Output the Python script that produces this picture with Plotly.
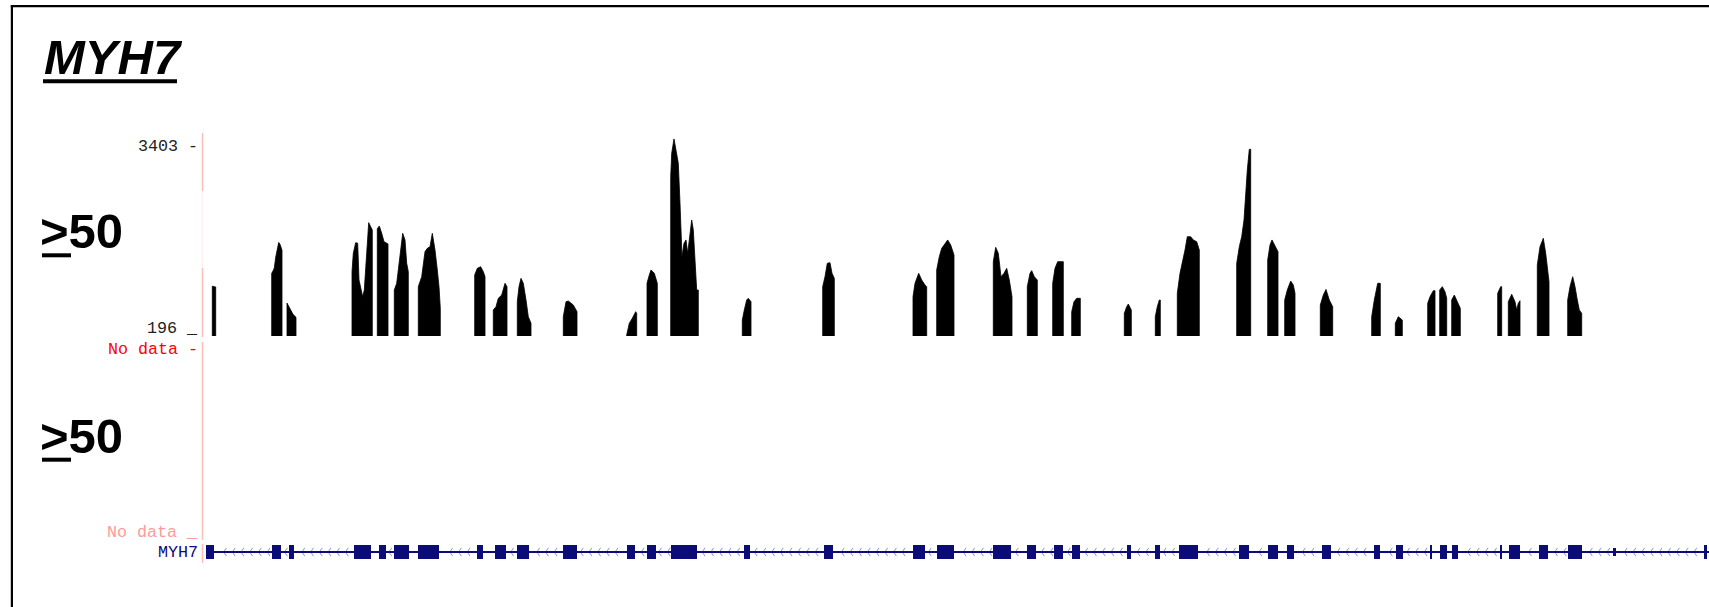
import numpy as np
import plotly.graph_objects as go

W, H = 1709, 607

# ------------------------------------------------------------------ data
gene_name = "MYH7"
track_labels = ["&gt;50", "&gt;50"]
y_tick_vals = [3403, 196]
view_start, view_end = 0, 15060          # relative bp
y_lo, y_hi = 196, 3600

# coverage profile, one list per covered block (relative bp / read depth)
cov_pos = [
    [93, 127],
    [687, 700, 713, 727, 740, 757, 770, 780, 790],
    [840, 860, 880, 900, 930],
    [1490, 1503, 1527, 1547, 1560, 1597, 1613, 1637, 1657, 1673, 1693],
    [1743, 1763, 1787, 1810, 1850],
    [1913, 1937, 1963, 1997, 2020, 2037, 2053],
    [2153, 2187, 2220, 2243, 2270, 2293, 2320, 2343, 2360, 2373],
    [2717, 2743, 2777, 2803, 2820],
    [2903, 2930, 2953, 2987, 3020, 3040],
    [3143, 3160, 3180, 3203, 3230, 3253, 3280],
    [3603, 3630, 3653, 3703, 3740],
    [4237, 4263, 4293, 4327, 4337],
    [4440, 4463, 4480, 4513, 4543],
    [4677, 4687, 4710, 4737, 4753, 4770, 4790, 4810, 4830, 4847, 4870, 4887, 4903, 4923, 4937, 4953],
    [5393, 5413, 5437, 5453, 5480],
    [6197, 6220, 6243, 6270, 6290, 6313],
    [7100, 7120, 7157, 7187, 7220, 7237],
    [7337, 7363, 7387, 7413, 7447, 7477, 7510],
    [7903, 7927, 7953, 7980, 8010, 8037, 8063, 8090],
    [8243, 8270, 8287, 8313, 8343],
    [8497, 8520, 8547, 8603],
    [8687, 8710, 8737, 8773],
    [9213, 9237, 9253, 9283],
    [9523, 9543, 9563, 9573],
    [9743, 9770, 9793, 9820, 9843, 9877, 9903, 9937, 9963],
    [10337, 10363, 10387, 10410, 10430, 10443, 10463, 10477],
    [10647, 10670, 10690, 10720, 10750],
    [10817, 10843, 10877, 10903, 10920],
    [11173, 11203, 11230, 11263, 11297],
    [11687, 11713, 11747, 11773],
    [11923, 11953, 11993],
    [12247, 12270, 12303, 12320],
    [12367, 12393, 12420, 12437],
    [12487, 12513, 12547, 12573],
    [12947, 12977, 12987],
    [13053, 13087, 13120, 13137, 13153, 13170],
    [13343, 13370, 13403, 13427, 13453, 13460],
    [13647, 13670, 13697, 13720, 13743, 13763, 13787],
]
cov_val = [
    [1035, 1020],
    [1250, 1290, 1340, 1520, 1640, 1770, 1740, 1660, 1640],
    [750, 680, 620, 560, 510],
    [1279, 1588, 1767, 1756, 1138, 857, 970, 1588, 2103, 2047, 1980],
    [2000, 2047, 1924, 1784, 1745],
    [970, 1083, 1475, 1924, 1812, 1419, 1279],
    [1026, 1194, 1615, 1671, 1699, 1924, 1643, 1307, 1026, 662],
    [1223, 1334, 1362, 1279, 1194],
    [634, 689, 830, 885, 1083, 1026],
    [773, 1026, 1166, 1083, 802, 521, 410],
    [521, 773, 785, 718, 605],
    [213, 410, 493, 605, 577],
    [1083, 1223, 1307, 1251, 1083],
    [2877, 3272, 3512, 3272, 3103, 2429, 1531, 1756, 1812, 1588, 1980, 2148, 1980, 1419, 970, 970],
    [465, 634, 802, 830, 773],
    [1026, 1194, 1419, 1430, 1251, 1166],
    [857, 1083, 1251, 1138, 1054, 1026],
    [1307, 1531, 1671, 1728, 1812, 1728, 1560],
    [1447, 1688, 1588, 1194, 1251, 1334, 1138, 857],
    [1026, 1251, 1296, 1194, 1138],
    [1083, 1334, 1447, 1447],
    [605, 773, 830, 830],
    [577, 689, 734, 634],
    [521, 689, 802, 802],
    [915, 1251, 1419, 1643, 1867, 1867, 1812, 1784, 1643],
    [1419, 1699, 1867, 2148, 2709, 2989, 3338, 3338],
    [1475, 1728, 1812, 1699, 1615],
    [802, 970, 1121, 1054, 915],
    [718, 885, 980, 802, 689],
    [521, 802, 1083, 1083],
    [410, 521, 465],
    [746, 857, 958, 958],
    [970, 1026, 942, 830],
    [802, 885, 773, 662],
    [915, 1026, 1026],
    [773, 897, 773, 634, 746, 790],
    [1390, 1699, 1840, 1588, 1138, 1110],
    [802, 1026, 1194, 1026, 802, 634, 577],
]

# gene model (relative bp)
exon_start = [30, 690, 860, 1510, 1760, 1910, 2150, 2740, 2920, 3140, 3600, 4240, 4440, 4680,
              5410, 6210, 7100, 7340, 7900, 8240, 8510, 8690, 9240, 9520, 9760, 10360, 10650,
              10840, 11190, 11710, 11930, 12270, 12370, 12490, 12970, 13060, 13360, 13650,
              14095, 15010]
exon_end = [110, 780, 910, 1680, 1830, 2060, 2360, 2800, 3030, 3260, 3740, 4320, 4530, 4940,
            5470, 6300, 7220, 7510, 8080, 8330, 8600, 8770, 9280, 9570, 9950, 10460, 10750,
            10910, 11280, 11770, 12000, 12290, 12440, 12550, 12985, 13170, 13450, 13790,
            14125, 15040]
exon_thick = [1] * 38 + [0.6, 1]
gene_start, gene_end = 30, 15060

# ------------------------------------------------------------------ helpers
def pxx(x):
    return x / W


def pxy(y):
    return 1 - y / H


NAVY = "rgb(12,12,120)"
PINK = "#ffbcbc"

fig = go.Figure()

# coverage (filled profile)
xs, ys = [], []
for p, v in zip(cov_pos, cov_val):
    xs += [p[0]] + p + [p[-1]]
    ys += [0] + v + [0]
fig.add_trace(go.Scatter(x=xs, y=ys, mode="lines", fill="tozeroy",
                         line=dict(color="black", width=0.8), fillcolor="black",
                         hoverinfo="skip", xaxis="x", yaxis="y"))

# gene intron chevrons (only in introns)
chev_all = np.arange(gene_start + 90, gene_end, 87)
chev = [c for c in chev_all
        if not any(s - 35 <= c <= e + 25 for s, e in zip(exon_start, exon_end))]
fig.add_trace(go.Scatter(x=chev, y=[0] * len(chev), mode="markers",
                         marker=dict(symbol="y-left", size=7,
                                     line=dict(color="rgba(110,110,200,0.75)", width=1)),
                         hoverinfo="skip", xaxis="x", yaxis="y2"))
# intron line
fig.add_trace(go.Scatter(x=[gene_start, gene_end], y=[0, 0], mode="lines",
                         line=dict(color=NAVY, width=2), hoverinfo="skip",
                         xaxis="x", yaxis="y2"))
# exons
fig.add_trace(go.Bar(base=exon_start,
                     x=[e - s for s, e in zip(exon_start, exon_end)],
                     y=[0] * len(exon_start), width=exon_thick, orientation="h",
                     marker=dict(color=NAVY, line=dict(width=0)),
                     hoverinfo="skip", xaxis="x", yaxis="y2"))

# ------------------------------------------------------------------ layout
x_dom = [pxx(203), 1.0]
fig.update_layout(
    width=W, height=H, margin=dict(l=0, r=0, t=0, b=0),
    paper_bgcolor="white", plot_bgcolor="rgba(0,0,0,0)",
    showlegend=False, bargap=0,
    xaxis=dict(domain=x_dom, range=[view_start, view_end], visible=False),
    yaxis=dict(domain=[pxy(336), pxy(133.7)], range=[y_lo, y_hi], visible=False),
    yaxis2=dict(domain=[pxy(566), pxy(538)], range=[-1, 1], visible=False, anchor="x"),
)

shapes = []
# frame (left + top)
shapes.append(dict(type="line", xref="paper", yref="paper", x0=pxx(11.9), x1=pxx(11.9),
                   y0=pxy(5.2), y1=pxy(610), line=dict(color="black", width=2.2)))
shapes.append(dict(type="line", xref="paper", yref="paper", x0=pxx(10.8), x1=pxx(1712),
                   y0=pxy(6.2), y1=pxy(6.2), line=dict(color="black", width=2.2)))
# pink separators
for y0, y1, col in [(133, 191, PINK), (191, 268, "#fff0f0"), (268, 337, PINK),
                    (342, 540, PINK), (544, 563, PINK)]:
    shapes.append(dict(type="line", xref="paper", yref="paper", x0=pxx(202.5), x1=pxx(202.5),
                       y0=pxy(y0), y1=pxy(y1), line=dict(color=col, width=1.5)))
# underlines
for x0, x1, yc in [(43, 177, 81.3), (42, 71, 255.3), (42, 71, 459.7)]:
    shapes.append(dict(type="rect", xref="paper", yref="paper", x0=pxx(x0), x1=pxx(x1),
                       y0=pxy(yc + 2), y1=pxy(yc - 2), fillcolor="black", line=dict(width=0)))
fig.update_layout(shapes=shapes)

ann = []
big = dict(family="Liberation Sans, Arial, sans-serif", size=49, color="black", weight="bold")
ann.append(dict(text=gene_name, x=pxx(42), y=pxy(57), xref="paper", yref="paper",
                xanchor="left", yanchor="middle", showarrow=False,
                font=dict(big, style="italic")))
for lab, yc in zip(track_labels, [231, 436]):
    ann.append(dict(text=lab, x=pxx(38), y=pxy(yc), xref="paper", yref="paper",
                    xanchor="left", yanchor="middle", showarrow=False, font=big))

mono = "Liberation Mono, Courier New, monospace"
small = [
    (f"{y_tick_vals[0]} -", 146.3, "#222222"),
    (f"{y_tick_vals[1]} _", 328.6, "#222222"),
    ("No data -", 349.6, "#ff0000"),
    ("No data _", 532.6, "#ff9a9a"),
    (gene_name, 552.6, NAVY),
]
for t, yc, col in small:
    ann.append(dict(text=t, x=pxx(200), y=pxy(yc), xref="paper", yref="paper",
                    xanchor="right", yanchor="middle", showarrow=False,
                    font=dict(family=mono, size=16.7, color=col)))
fig.update_layout(annotations=ann)

fig.write_html("out.html", config={"displayModeBar": False},
               post_script="document.body.style.margin='0';")
